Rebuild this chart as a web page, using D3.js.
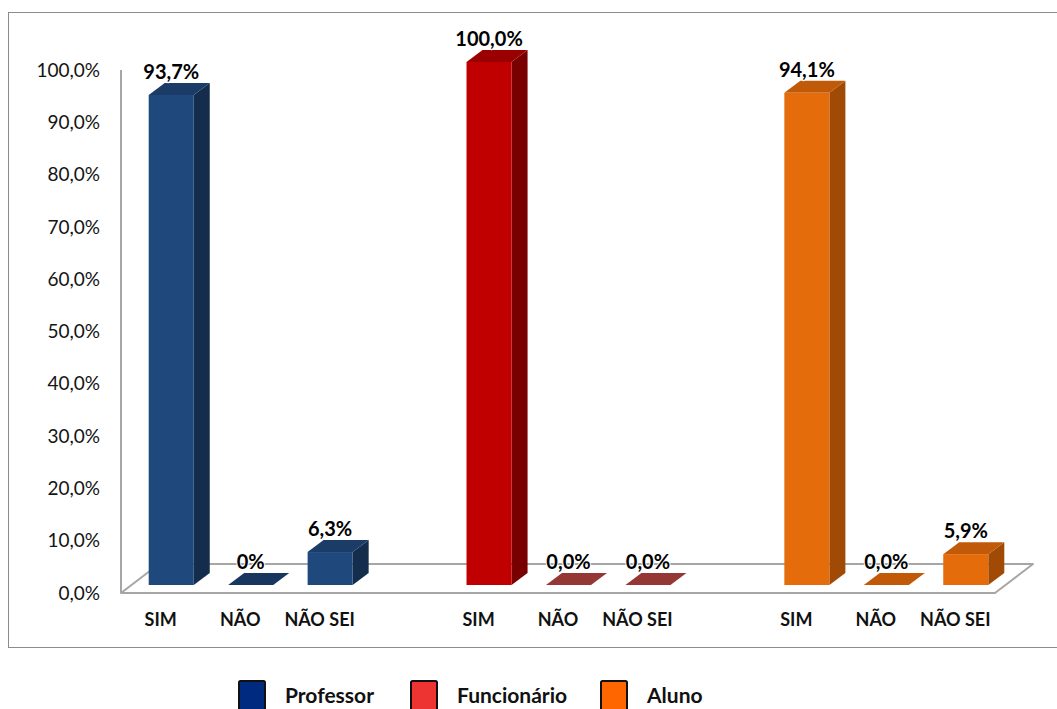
<!DOCTYPE html>
<html>
<head>
<meta charset="utf-8">
<script src="https://cdn.jsdelivr.net/npm/d3@7"></script>
<style>
  html, body { margin: 0; padding: 0; background: #ffffff; }
  svg { display: block; }
  text { font-family: Lato, "Open Sans", "DejaVu Sans", sans-serif; }
</style>
</head>
<body>
<svg id="chart" width="1057" height="709"></svg>
<script>
// Survey answers (%) per respondent group
const groups = ["Professor", "Funcionário", "Aluno"];
const answers = ["SIM", "NÃO", "NÃO SEI"];
const professorValues = [93.7, 0, 6.3];
const funcionarioValues = [100.0, 0, 0];
const alunoValues = [94.1, 0, 5.9];
const professorLabels = ["93,7%", "0%", "6,3%"];
const funcionarioLabels = ["100,0%", "0,0%", "0,0%"];
const alunoLabels = ["94,1%", "0,0%", "5,9%"];
const yTicks = [0, 10, 20, 30, 40, 50, 60, 70, 80, 90, 100];

// Face colours of each 3D column: front, top, side; legend swatch colour
const palette = {
  "Professor":   { front: "#1f497d", top: "#1a3c66", side: "#152d4c", flat: "#17375e", legend: "#002a80" },
  "Funcionário": { front: "#c00000", top: "#9a0000", side: "#780000", flat: "#953735", legend: "#ee3333" },
  "Aluno":       { front: "#e46c0a", top: "#c05a08", side: "#a04a06", flat: "#c05a08", legend: "#ff6600" }
};

const series = [
  { name: "Professor", values: professorValues, labels: professorLabels },
  { name: "Funcionário", values: funcionarioValues, labels: funcionarioLabels },
  { name: "Aluno", values: alunoValues, labels: alunoLabels }
];

const svg = d3.select("#chart");
const ptBr = d3.formatLocale({ decimal: ",", thousands: ".", grouping: [3], currency: ["R$", ""] });
const pct = v => ptBr.format(".1f")(v) + "%";

// Floor plane (front edge) and perspective offsets
const floorLeft = 121, floorRight = 995;
const depth = { dx: 38, dy: -29 };      // full floor depth
const barShift = { dx: 10.5, dy: -8 };  // column front face inside the floor
const barDepth = { dx: 16, dy: -12 };   // column thickness

const y = d3.scaleLinear().domain([0, 100]).range([593, 70]);
const xGroup = d3.scaleBand().domain(groups).range([floorLeft, floorRight]).paddingInner(0.25).paddingOuter(0);
const xAnswer = d3.scaleBand().domain(answers).range([0, xGroup.bandwidth()]).padding(0);
const barWidth = xAnswer.bandwidth() * 0.567;

// Outer frame
svg.append("rect")
  .attr("x", 8.5).attr("y", 12.5)
  .attr("width", 1070).attr("height", 635)
  .attr("fill", "none").attr("stroke", "#8c8c8c").attr("stroke-width", 1);

// Floor
const y0 = y(0);
const floorPts = [
  [floorLeft, y0], [floorRight, y0],
  [floorRight + depth.dx, y0 + depth.dy], [floorLeft + depth.dx, y0 + depth.dy]
];
svg.append("polygon")
  .attr("points", floorPts.map(p => p.join(",")).join(" "))
  .attr("fill", "#ffffff").attr("stroke", "#a6a6a6").attr("stroke-width", 2)
  .attr("stroke-linejoin", "round");

// Vertical axis line
svg.append("line")
  .attr("x1", floorLeft).attr("x2", floorLeft)
  .attr("y1", y(100)).attr("y2", y0)
  .attr("stroke", "#a6a6a6").attr("stroke-width", 2);

// Y tick labels
svg.append("g").selectAll("text").data(yTicks).join("text")
  .attr("x", 100).attr("y", d => y(d))
  .attr("dy", "0.35em")
  .attr("text-anchor", "end")
  .attr("font-size", 19)
  .attr("fill", "#141414")
  .text(d => pct(d));

// Columns
const bars = [];
series.forEach(s => {
  answers.forEach((a, i) => {
    bars.push({ group: s.name, answer: a, value: s.values[i], label: s.labels[i] });
  });
});

const poly = pts => pts.map(p => p.join(",")).join(" ");
const gBars = svg.append("g");
bars.forEach(b => {
  const c = palette[b.group];
  const x0 = xGroup(b.group) + xAnswer(b.answer) + (xAnswer.bandwidth() - barWidth) / 2 + barShift.dx;
  const x1 = x0 + barWidth;
  const yb = y(0) + barShift.dy;
  const yt = y(b.value) + barShift.dy;
  const g = gBars.append("g");
  if (b.value > 0) {
    g.append("polygon").attr("fill", c.side)
      .attr("points", poly([[x1, yt], [x1 + barDepth.dx, yt + barDepth.dy], [x1 + barDepth.dx, yb + barDepth.dy], [x1, yb]]));
    g.append("polygon").attr("fill", c.top)
      .attr("points", poly([[x0, yt], [x1, yt], [x1 + barDepth.dx, yt + barDepth.dy], [x0 + barDepth.dx, yt + barDepth.dy]]));
    g.append("rect").attr("fill", c.front)
      .attr("x", x0).attr("y", yt).attr("width", barWidth).attr("height", yb - yt);
  } else {
    g.append("polygon").attr("fill", c.flat)
      .attr("points", poly([[x0, yb], [x1, yb], [x1 + barDepth.dx, yb + barDepth.dy], [x0 + barDepth.dx, yb + barDepth.dy]]));
  }
  // Value label
  g.append("text")
    .attr("x", (x0 + x1) / 2).attr("y", yt - 16)
    .attr("text-anchor", "middle")
    .attr("font-size", 20).attr("font-weight", 700)
    .attr("fill", "#000000")
    .attr("stroke", "#ffffff").attr("stroke-width", 2).attr("paint-order", "stroke")
    .text(b.label);
});

// Category labels under the floor
const gCat = svg.append("g");
groups.forEach(gName => {
  answers.forEach(a => {
    gCat.append("text")
      .attr("x", xGroup(gName) + xAnswer(a) + xAnswer.bandwidth() / 2)
      .attr("y", 626)
      .attr("text-anchor", "middle")
      .attr("font-size", 18).attr("font-weight", 700)
      .attr("fill", "#111111")
      .text(a);
  });
});

// Legend
const legendItems = [
  { name: "Professor", x: 238 },
  { name: "Funcionário", x: 410 },
  { name: "Aluno", x: 600 }
];
const gLeg = svg.append("g");
legendItems.forEach(it => {
  gLeg.append("rect")
    .attr("x", it.x + 1).attr("y", 681)
    .attr("width", 26).attr("height", 30)
    .attr("fill", palette[it.name].legend)
    .attr("stroke", "#111111").attr("stroke-width", 2).attr("rx", 1.5);
  gLeg.append("text")
    .attr("x", it.x + 47).attr("y", 703)
    .attr("font-size", 21).attr("font-weight", 700)
    .attr("fill", "#111111")
    .text(it.name);
});
</script>
</body>
</html>
